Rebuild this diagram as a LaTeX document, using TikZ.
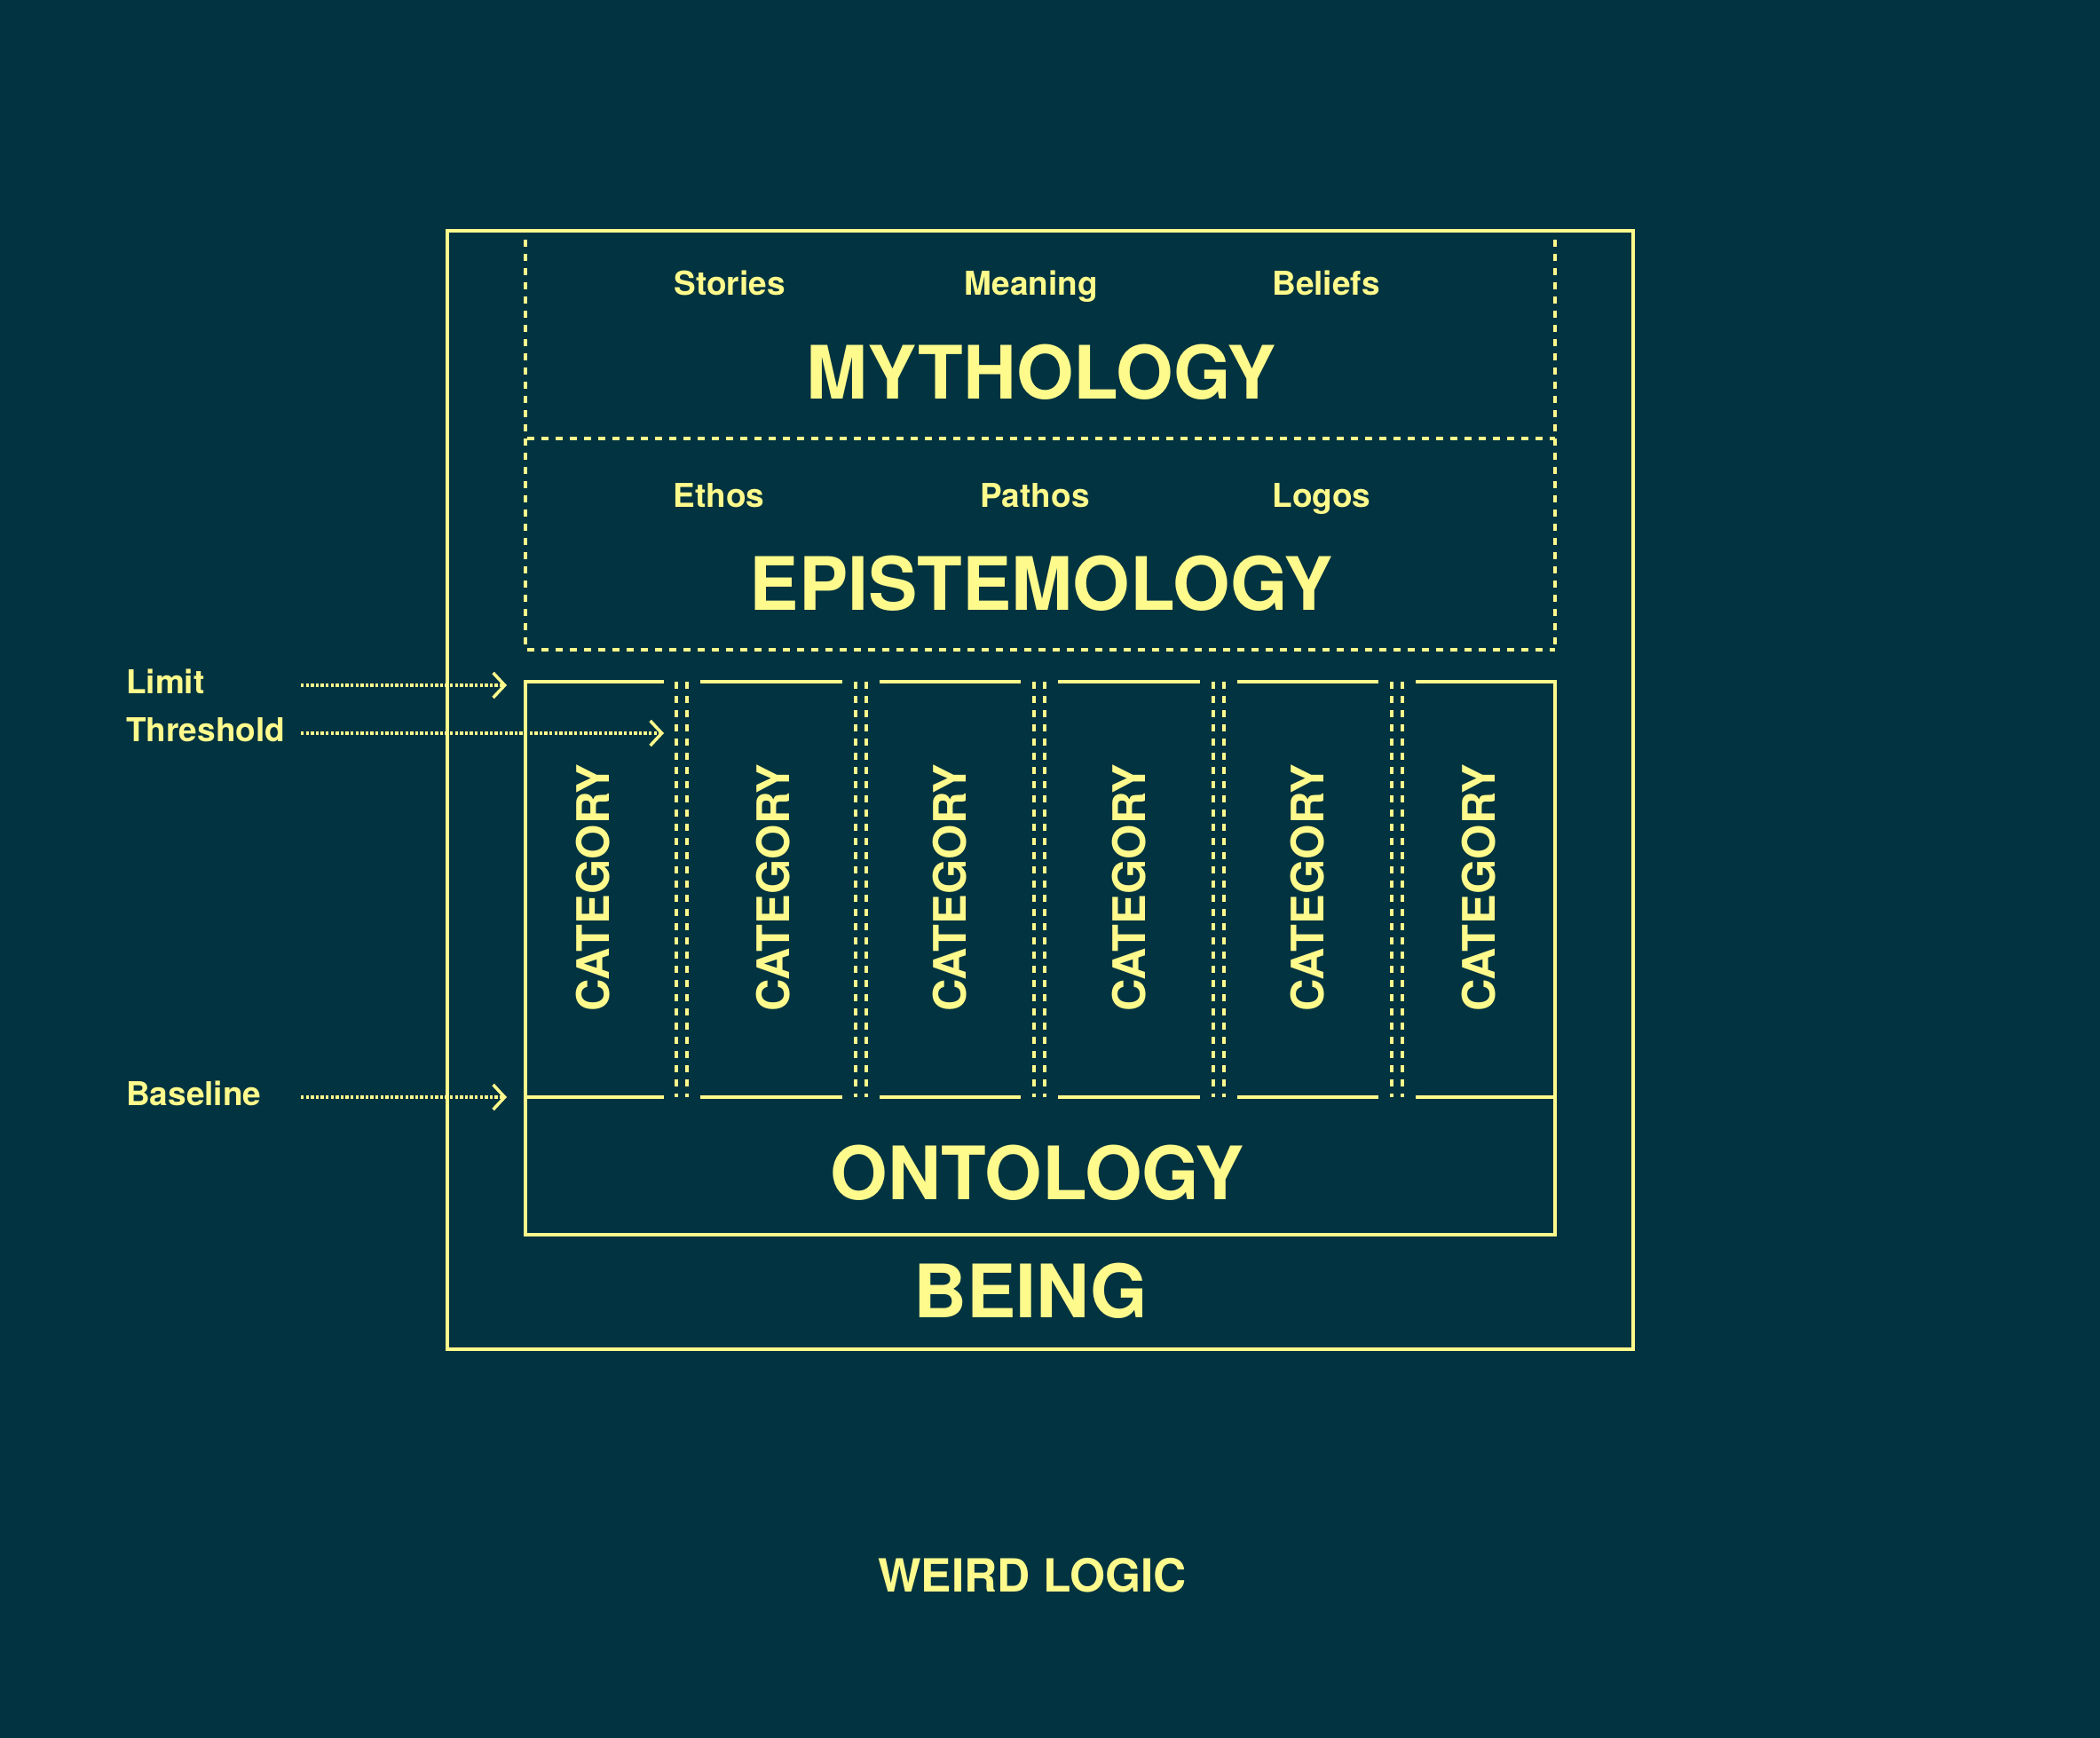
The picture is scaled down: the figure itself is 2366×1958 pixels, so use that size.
\documentclass[tikz,border=0pt]{standalone}
\usepackage{fontspec}
\setmainfont{TeX Gyre Heros}
\usetikzlibrary{arrows.meta}
\definecolor{bg}{RGB}{1,51,64}
\definecolor{ylw}{RGB}{255,250,140}
\begin{document}
\begin{tikzpicture}[x=1pt,y=-1pt,
  frame/.style={draw=ylw, line width=4pt},
  dashline/.style={draw=ylw, line width=4pt, dash pattern=on 8pt off 8pt},
  dotarrow/.style={draw=ylw, line width=4pt, dash pattern=on 3.4pt off 2.2pt,
     -{Straight Barb[length=13pt,width=28pt,line width=3.5pt]}},
  title/.style={text=ylw, font=\bfseries\fontsize{83}{90}\selectfont, inner sep=0pt, anchor=base},
  small/.style={text=ylw, font=\bfseries\fontsize{37}{44}\selectfont, inner sep=0pt, anchor=base},
  foot/.style={text=ylw, font=\bfseries\fontsize{51.5}{60}\selectfont, inner sep=0pt, anchor=base},
  cat/.style={text=ylw, font=\bfseries\fontsize{50.5}{60}\selectfont, rotate=90, inner sep=0pt}
]
\fill[bg] (0,0) rectangle (2366,1958);
\useasboundingbox (0,0) rectangle (2366,1958);

% outer frame
\node[frame, minimum width=1336pt, minimum height=1260pt, inner sep=0pt] (outer) at (1172,890) {};

% upper dashed region
\draw[dashline] (592,270) -- (592,732);
\draw[dashline] (1752,270) -- (1752,732);
\draw[dashline] (594,494) -- (1752,494);
\draw[dashline] (594,732) -- (1752,732);

% category region outline
\draw[frame] (748,768) -- (592,768) -- (592,1236);
\draw[frame] (1595,768) -- (1752,768) -- (1752,1236);
\foreach \a/\b in {789/948.5, 990.5/1150, 1192/1351.5, 1393.5/1553}{
  \draw[frame] (\a,768) -- (\b,768);
}
% separators (double dashed)
\foreach \c in {768,969.5,1171,1372.5,1574}{
  \draw[dashline] (\c-6,768) -- (\c-6,1236);
  \draw[dashline] (\c+6,768) -- (\c+6,1236);
}
% baseline segments
\draw[frame] (590,1236) -- (748,1236);
\foreach \a/\b in {789/948.5, 990.5/1150, 1192/1351.5, 1393.5/1553, 1595/1754}{
  \draw[frame] (\a,1236) -- (\b,1236);
}
% ontology box (open at the top: the baseline segments form its top)
\node[inner sep=0pt, minimum width=1160pt, minimum height=155pt] (ontbox) at (1172,1313.5) {};
\draw[frame] (ontbox.north west) -- (ontbox.south west) -- (ontbox.south east) -- (ontbox.north east);

% texts
\node[small] (stories) at (822,333) {Stories};
\node[small] (meaning) at (1162,333) {Meaning};
\node[small] (beliefs) at (1494,333) {Beliefs};
\node[title] (myth) at (1173,449) {MYTHOLOGY};
\node[small] (ethos) at (810,571) {Ethos};
\node[small] (pathos) at (1166,571) {Pathos};
\node[small] (logos) at (1489,571) {Logos};
\node[title] (epis) at (1173,687) {EPISTEMOLOGY};
\node[title] (onto) at (1169,1351) {ONTOLOGY};
\node[title] (being) at (1161,1484) {BEING};
\node[foot] (weird) at (1163,1793) {WEIRD LOGIC};

\node[cat] (c1) at (668,1000) {CATEGORY};
\node[cat] (c2) at (871,1000) {CATEGORY};
\node[cat] (c3) at (1070,1000) {CATEGORY};
\node[cat] (c4) at (1272,1000) {CATEGORY};
\node[cat] (c5) at (1473,1000) {CATEGORY};
\node[cat] (c6) at (1666,1000) {CATEGORY};

% side labels and arrows
\node[small, anchor=base west] (limit) at (142,781) {Limit};
\node[small, anchor=base west] (threshold) at (142,835) {Threshold};
\node[small, anchor=base west] (baseline) at (142,1245) {Baseline};
\coordinate (limA) at (339,772);
\coordinate (limB) at (571,772);
\coordinate (thrA) at (339,826);
\coordinate (thrB) at (748,826);
\coordinate (basA) at (339,1236);
\coordinate (basB) at (571,1236);
\draw[dotarrow] (limA) -- (limB);
\draw[dotarrow] (thrA) -- (thrB);
\draw[dotarrow] (basA) -- (basB);
\end{tikzpicture}
\end{document}
